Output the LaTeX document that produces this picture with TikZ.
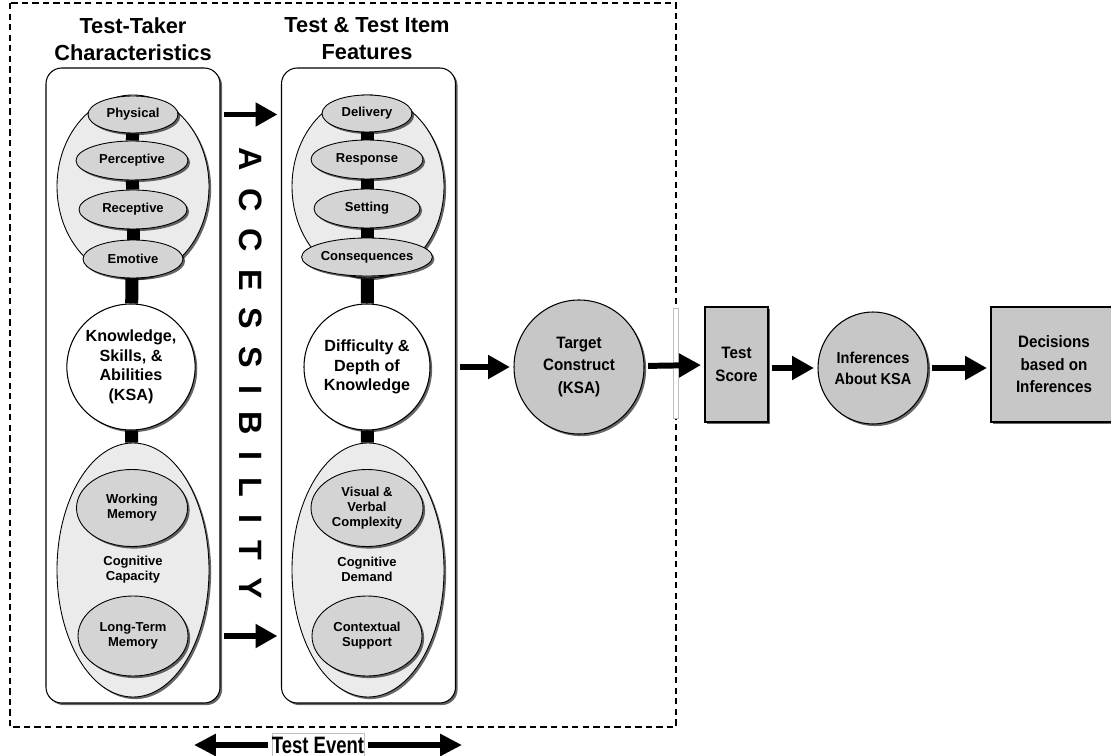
\documentclass[tikz,border=0pt]{standalone}
\usepackage{fontspec}
\setmainfont{Liberation Sans}
\usetikzlibrary{arrows.meta,shapes.geometric,shadows,positioning}
\newlength{\unitpx}\setlength{\unitpx}{0.02cm}

\begin{document}
\begin{tikzpicture}[x=0.02cm, y=-0.02cm,
    shd/.style={drop shadow={shadow xshift=1.2pt, shadow yshift=-1.2pt, opacity=.6, fill=black}},
    column/.style={rectangle, draw, line width=0.6pt, fill=white, rounded corners=9pt, shd, minimum width=174\unitpx, minimum height=635\unitpx},
    group/.style={ellipse, draw, line width=0.5pt, fill=black!8, inner sep=0pt, shd, minimum width=152\unitpx},
    trait/.style={ellipse, draw, line width=0.5pt, fill=black!17, inner sep=0pt, align=center, shd, font=\bfseries\fontsize{7.4}{8.6}\selectfont},
    core/.style={ellipse, draw, line width=0.6pt, fill=white, inner sep=0pt, align=center, shd, minimum width=126\unitpx, minimum height=126\unitpx, font=\bfseries\fontsize{9.2}{11.1}\selectfont},
    note/.style={align=center, font=\bfseries\fontsize{7.4}{8.6}\selectfont},
    title/.style={align=center, font=\bfseries\fontsize{12.4}{15.4}\selectfont},
    stage/.style={draw, line width=0.6pt, fill=black!22, inner sep=0pt, align=center, shd, font=\bfseries\fontsize{9.4}{12.8}\selectfont\addfontfeature{FakeStretch=0.92}},
    link/.style={line width=7.4pt, black},
    fat/.style={line width=3.4pt, -{Triangle[length=12.5pt,width=13pt]}, shorten <=2pt, shorten >=2pt},
    fatboth/.style={line width=3.8pt, -{Triangle[length=12.5pt,width=12pt]}}]
\useasboundingbox (0,0) rectangle (1111,756);

% test event frame
\draw[line width=1.3pt, dash pattern=on 3.6pt off 2.4pt] (10,3) rectangle (676,727);

% titles
\node[title] (titleL) at (133,39) {Test-Taker\\Characteristics};
\node[title] (titleR) at (367,39) {Test \& Test Item\\Features};

% columns
\node[column] (colL) at (133,385.5) {};
\node[column] (colR) at (368.5,385.5) {};

% test-taker characteristics
\node[group, minimum height=183\unitpx] (upL) at (133,186.5) {};
\node[trait, minimum width=90\unitpx, minimum height=37\unitpx] (phys) at (133,114.5) {Physical};
\node[trait, minimum width=112\unitpx, minimum height=39\unitpx] (perc) at (132,160.5) {Perceptive};
\node[trait, minimum width=108\unitpx, minimum height=39\unitpx] (recp) at (133,209.5) {Receptive};
\node[trait, minimum width=100\unitpx, minimum height=38\unitpx] (emot) at (133,259) {Emotive};
\node[core] (ksa) at (131,367) {Knowledge,\\Skills, \&\\Abilities\\(KSA)};
\node[group, minimum height=254\unitpx] (lowL) at (133,570) {};
\node[trait, minimum width=111\unitpx, minimum height=77\unitpx] (wm) at (132,508) {Working\\Memory};
\node[note] (capacity) at (133,569.5) {Cognitive\\Capacity};
\node[trait, minimum width=110\unitpx, minimum height=80\unitpx] (ltm) at (133,636) {Long-Term\\Memory};

\draw[link] (phys) -- (perc);
\draw[link] (perc) -- (recp);
\draw[link] (recp) -- (emot);
\draw[link] (upL) -- (ksa);
\draw[link] (ksa) -- (lowL);

% test and item features
\node[group, minimum height=183\unitpx] (upR) at (368,186.5) {};
\node[trait, minimum width=90\unitpx, minimum height=37\unitpx] (deliv) at (367,113.5) {Delivery};
\node[trait, minimum width=112\unitpx, minimum height=39\unitpx] (resp) at (367,159.5) {Response};
\node[trait, minimum width=106\unitpx, minimum height=39\unitpx] (sett) at (367,208.5) {Setting};
\node[trait, minimum width=102\unitpx, minimum height=38\unitpx] (conseq) at (367,257) {Consequences};
\node[core] (dok) at (367,367) {Difficulty \&\\Depth of\\Knowledge};
\node[group, minimum height=254\unitpx] (lowR) at (368,570) {};
\node[trait, minimum width=112\unitpx, minimum height=77\unitpx] (vvc) at (367,508) {Visual \&\\Verbal\\Complexity};
\node[note] (demand) at (367,569.5) {Cognitive\\Demand};
\node[trait, minimum width=110\unitpx, minimum height=80\unitpx] (ctx) at (367,636) {Contextual\\Support};

\draw[link] (deliv) -- (resp);
\draw[link] (resp) -- (sett);
\draw[link] (sett) -- (conseq);
\draw[link] (upR) -- (dok);
\draw[link] (dok) -- (lowR);

% accessibility
\node[rotate=-90, inner sep=0pt, font=\bfseries\fontsize{18.4}{18}\selectfont\addfontfeature{LetterSpace=53}] (access) at (250.5,373.5) {ACCESSIBILITY};
\draw[fat] (colL.east |- phys) -- (colR.west |- phys);
\draw[fat] (colL.east |- ltm) -- (colR.west |- ltm);

% from construct to decisions
\node[ellipse, draw, line width=0.6pt, fill=black!22, inner sep=0pt, align=center, shd, minimum width=130\unitpx, minimum height=134\unitpx, font=\bfseries\fontsize{9.4}{12.8}\selectfont\addfontfeature{FakeStretch=0.92}] (target) at (579,367) {Target\\Construct\\(KSA)};
\node[draw=black!25, line width=0.4pt, fill=white, inner sep=0pt, minimum width=5\unitpx, minimum height=110\unitpx] (gap) at (676,363) {};
\node[stage, minimum width=63\unitpx, minimum height=115\unitpx] (score) at (736.5,364.5) {Test\\Score};
\node[ellipse, stage, minimum width=110\unitpx, minimum height=112\unitpx, font=\bfseries\fontsize{9}{12}\selectfont\addfontfeature{FakeStretch=0.92}] (infer) at (873,368) {Inferences\\About KSA};
\node[stage, minimum width=126\unitpx, minimum height=115\unitpx] (decide) at (1054,364.5) {Decisions\\based on\\Inferences};

\draw[fat] (colR.east |- target) -- (target);
\draw[fat] (target) -- (score);
\draw[fat] (score.east |- infer) -- (infer);
\draw[fat] (infer) -- (decide.west |- infer);

% test event
\node[draw=black!25, line width=0.4pt, fill=white, minimum width=91\unitpx, minimum height=23\unitpx, inner sep=0pt, font=\bfseries\fontsize{13.5}{13.5}\selectfont\addfontfeature{FakeStretch=0.78}] (event) at (318,745) {Test Event};
\coordinate (evL) at (194,745);
\coordinate (evR) at (462,745);
\draw[fatboth, shorten <=2pt] (event.west) -- (evL);
\draw[fatboth, shorten <=2pt] (event.east) -- (evR);
\end{tikzpicture}
\end{document}
